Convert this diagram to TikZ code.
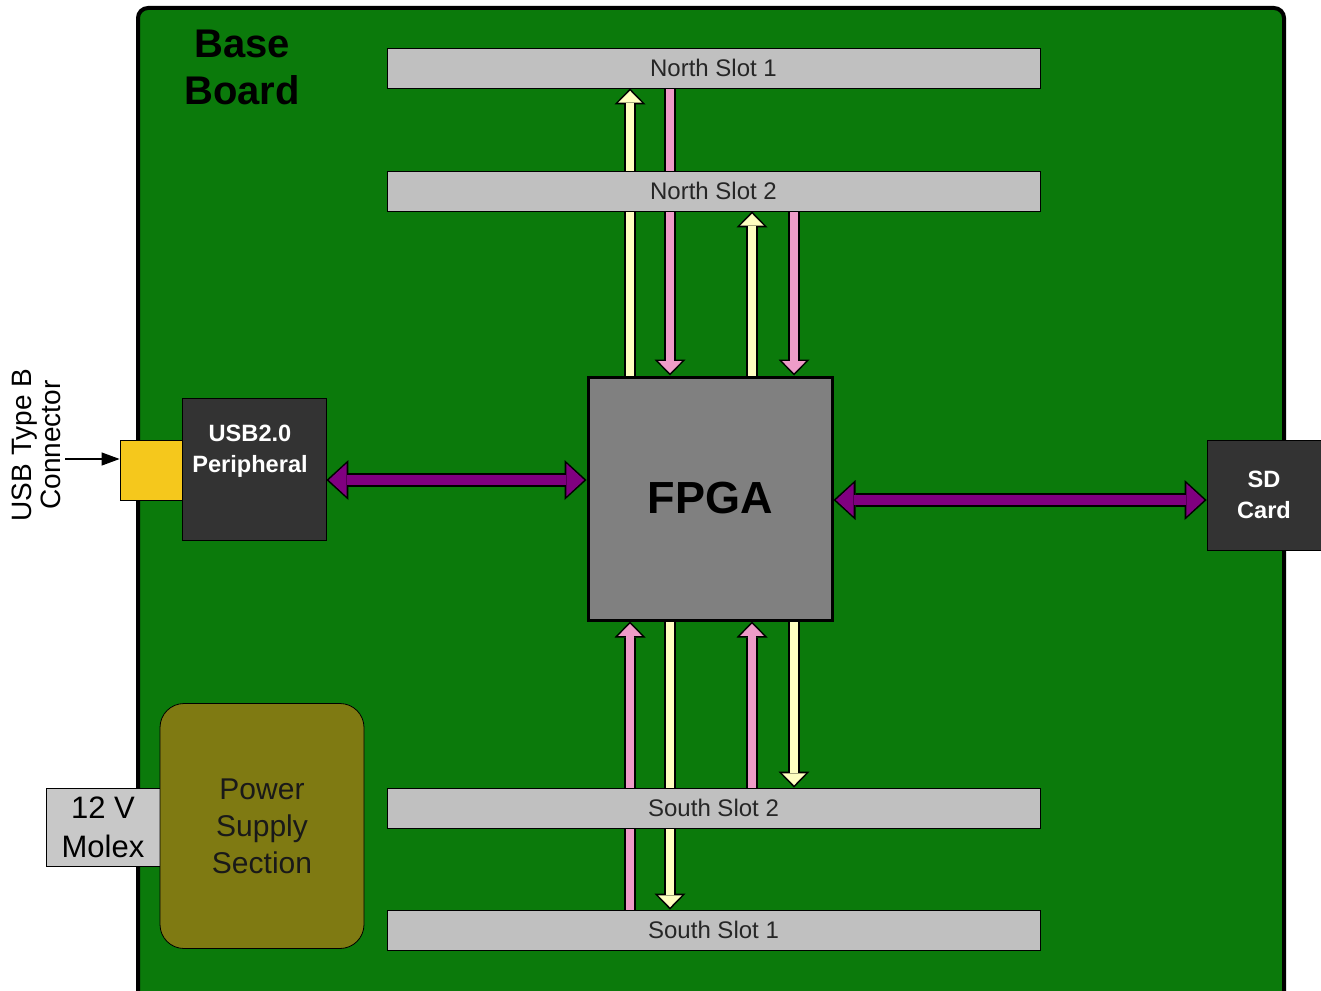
\documentclass[tikz,border=0pt]{standalone}
\usepackage{fontspec}
\setmainfont{Liberation Sans}
\usetikzlibrary{arrows.meta}
\definecolor{boardgreen}{HTML}{0B7A0B}
\definecolor{slotgrey}{HTML}{C0C0C0}
\definecolor{fpgagrey}{HTML}{808080}
\definecolor{chipdark}{HTML}{333333}
\definecolor{plugyellow}{HTML}{F5C81C}
\definecolor{psuolive}{HTML}{7F7A12}
\definecolor{molexgrey}{HTML}{C8C8C8}
\definecolor{busyellow}{HTML}{FFFFC0}
\definecolor{buspink}{HTML}{EE9CC8}
\definecolor{buspurple}{HTML}{800080}
\pgfdeclarelayer{board}
\pgfdeclarelayer{wires}
\pgfsetlayers{board,wires,main}
\tikzset{
    board/.style={draw=black, line width=2pt, fill=boardgreen, rounded corners=5pt},
    title/.style={align=center, font=\bfseries\fontsize{20}{23.5}\selectfont},
    slot/.style={draw=black, thin, fill=slotgrey, minimum width=326.5pt, minimum height=20pt, inner sep=0, text=black!85, font=\fontsize{12}{14}\selectfont},
    fpga/.style={draw=black, line width=1.5pt, fill=fpgagrey, minimum width=122pt, minimum height=121.5pt, inner sep=0, font=\bfseries\fontsize{22.5}{26}\selectfont},
    chip/.style={draw=black, thin, fill=chipdark, inner sep=0},
    chiptext/.style={text=white, align=center, font=\bfseries\fontsize{11.8}{15.5}\selectfont},
    usbplug/.style={draw=black, thin, fill=plugyellow, minimum width=31pt, minimum height=30pt, inner sep=0},
    sidetext/.style={align=center, font=\fontsize{14}{14.5}\selectfont},
    power/.style={draw=black, thin, fill=psuolive, rounded corners=12pt, minimum width=102pt, minimum height=122.5pt, align=center, text=black!90, font=\fontsize{15}{18.5}\selectfont},
    molex/.style={draw=black, thin, fill=molexgrey, minimum width=57pt, minimum height=39pt, inner sep=0, align=center, font=\fontsize{15.5}{19.5}\selectfont},
    pointer/.style={draw=black, line width=0.6pt, -{Triangle[length=9pt, width=6.5pt]}},
    busline/.style={draw=black, line width=6pt, -{Triangle[length=8pt, width=15.5pt, line width=0pt]}},
    busfill/.style={draw=#1, line width=4.4pt, shorten >=1.17pt, -{Triangle[length=6pt, width=11.8pt, line width=0pt]}},
    wideline/.style={draw=black, line width=7pt, {Triangle[length=11pt, width=20pt, line width=0pt]}-{Triangle[length=11pt, width=20pt, line width=0pt]}},
    widefill/.style={draw=buspurple, line width=5.4pt, shorten >=1.2pt, shorten <=1.2pt, {Triangle[length=8.9pt, width=16.4pt, line width=0pt]}-{Triangle[length=8.9pt, width=16.4pt, line width=0pt]}}
}
\begin{document}
\begin{tikzpicture}[x=0.5pt, y=-0.5pt]
    \useasboundingbox (0,0) rectangle (1321,990);
    \begin{pgfonlayer}{board}
        \draw[board] (138,8) rectangle (1284,1010);
    \end{pgfonlayer}
    \node[title] (base) at (242,67) {Base\\Board};

    % expansion slots
    \node[slot] (n1) at (713.5,68) {North Slot 1};
    \node[slot] (n2) at (713.5,191) {North Slot 2};
    \node[slot] (s2) at (713.5,808) {South Slot 2};
    \node[slot] (s1) at (713.5,930) {South Slot 1};

    \node[fpga] (fpga) at (710,498.5) {FPGA};

    % usb side
    \node[usbplug] (plug) at (151,470) {};
    \node[chip, minimum width=72pt, minimum height=71pt] (usb) at (254,469) {};
    \node[chiptext] (usbtext) at (250,451) {USB2.0\\Peripheral};
    \node[sidetext, rotate=90] (usblabel) at (36,445) {USB Type B\\Connector};
    \coordinate (plugin) at (65,459);
    \draw[pointer] (plugin) -- (plug.west |- plugin);

    \node[chip, chiptext, minimum width=57pt, minimum height=55pt] (sd) at (1264,495) {SD\\Card};

    % power
    \node[molex] (molex) at (103,827) {12 V\\Molex};
    \node[power] (psu) at (262,826) {Power\\Supply\\Section};

    % buses
    \coordinate (la) at (630,0);
    \coordinate (lb) at (670,0);
    \coordinate (lc) at (752,0);
    \coordinate (ld) at (794,0);
    \coordinate (py) at (0,480);
    \coordinate (qy) at (0,500);
    \begin{pgfonlayer}{wires}
        \foreach \from/\to/\lane/\col in {fpga.north/n1.south/la/busyellow, n1.south/fpga.north/lb/buspink,
            fpga.north/n2.south/lc/busyellow, n2.south/fpga.north/ld/buspink,
            s1.north/fpga.south/la/buspink, fpga.south/s1.north/lb/busyellow,
            s2.north/fpga.south/lc/buspink, fpga.south/s2.north/ld/busyellow}
        {
            \draw[busline] (\from -| \lane) -- (\to -| \lane);
            \draw[busfill=\col] (\from -| \lane) -- (\to -| \lane);
        }
        \draw[wideline] (usb.east |- py) -- (fpga.west |- py);
        \draw[widefill] (usb.east |- py) -- (fpga.west |- py);
        \draw[wideline] (fpga.east |- qy) -- (sd.west |- qy);
        \draw[widefill] (fpga.east |- qy) -- (sd.west |- qy);
    \end{pgfonlayer}
\end{tikzpicture}
\end{document}
